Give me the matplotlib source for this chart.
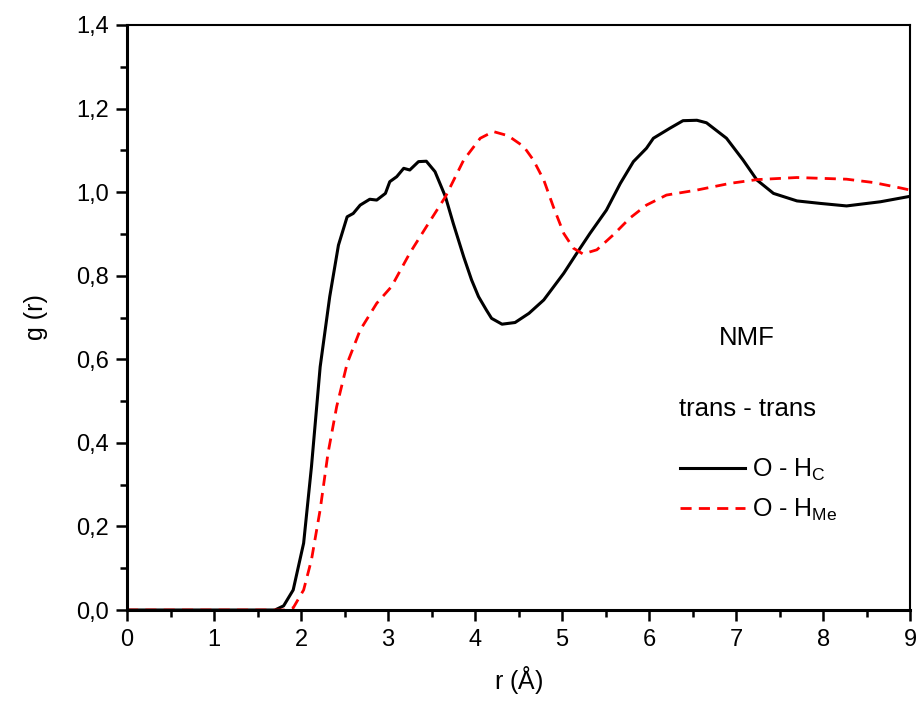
import matplotlib
matplotlib.use("Agg")
import matplotlib.pyplot as plt
from matplotlib.ticker import MultipleLocator

plt.rcParams['font.family'] = ['Liberation Sans', 'DejaVu Sans']
plt.rcParams['mathtext.default'] = 'regular'
plt.rcParams['mathtext.fontset'] = 'custom'
plt.rcParams['mathtext.rm'] = 'Liberation Serif'

# O - H_C (black, solid)
r_hc = [0.0, 1.0, 1.70, 1.80, 1.91, 2.03, 2.12, 2.22, 2.33, 2.43, 2.53, 2.60, 2.68,
        2.79, 2.87, 2.97, 3.02, 3.10, 3.18, 3.25, 3.35, 3.44, 3.54, 3.66, 3.75,
        3.87, 3.96, 4.04, 4.13, 4.19, 4.31, 4.46, 4.62, 4.79, 5.02, 5.17, 5.32,
        5.51, 5.67, 5.82, 5.97, 6.05, 6.24, 6.39, 6.55, 6.66, 6.89, 7.08, 7.24,
        7.43, 7.70, 7.97, 8.27, 8.66, 9.0]
g_hc = [0.0, 0.0, 0.0, 0.01, 0.048, 0.16, 0.343, 0.582, 0.75, 0.873, 0.941, 0.949, 0.969,
        0.983, 0.981, 0.997, 1.025, 1.037, 1.057, 1.053, 1.073, 1.074, 1.049, 0.989, 0.925,
        0.845, 0.79, 0.75, 0.718, 0.698, 0.684, 0.688, 0.71, 0.742, 0.806, 0.854, 0.901,
        0.957, 1.021, 1.073, 1.105, 1.129, 1.153, 1.171, 1.172, 1.166, 1.129, 1.077, 1.029,
        0.997, 0.979, 0.973, 0.967, 0.977, 0.99]

# O - H_Me (red, dashed)
r_hme = [0.0, 1.0, 1.80, 1.91, 2.03, 2.12, 2.22, 2.31, 2.41, 2.53, 2.68, 2.87, 3.04,
         3.25, 3.44, 3.66, 3.87, 4.06, 4.21, 4.38, 4.56, 4.67, 4.79, 4.90, 5.02,
         5.13, 5.24, 5.40, 5.59, 5.78, 5.97, 6.20, 6.55, 6.93, 7.24, 7.70, 8.27,
         8.58, 8.89, 9.0]
g_hme = [0.0, 0.0, 0.0, 0.005, 0.048, 0.12, 0.24, 0.375, 0.487, 0.59, 0.67, 0.734, 0.774,
         0.854, 0.917, 0.989, 1.077, 1.129, 1.145, 1.135, 1.109, 1.077, 1.029, 0.965, 0.901,
         0.866, 0.852, 0.862, 0.898, 0.938, 0.969, 0.993, 1.005, 1.021, 1.03, 1.035, 1.031,
         1.023, 1.01, 1.005]

fig = plt.figure(figsize=(9.23, 7.04), dpi=100)
ax = fig.add_axes([0.1376, 0.1335, 0.8484, 0.831])

ax.plot(r_hc, g_hc, color='black', lw=2.2, label='O - H$_C$')
ax.plot(r_hme, g_hme, color='red', lw=2.0, ls=(0, (4, 2.6)), label='O - H$_{Me}$')

ax.set_xlim(0, 9)
ax.set_ylim(0, 1.4)
ax.xaxis.set_major_locator(MultipleLocator(1))
ax.xaxis.set_minor_locator(MultipleLocator(0.5))
ax.yaxis.set_major_locator(MultipleLocator(0.2))
ax.yaxis.set_minor_locator(MultipleLocator(0.1))
ax.yaxis.set_major_formatter(plt.FuncFormatter(lambda v, p: f'{v:.1f}'.replace('.', ',')))
ax.tick_params(which='both', direction='out', top=False, right=False, width=1.8)
ax.tick_params(which='major', length=8, labelsize=17)
ax.tick_params(which='minor', length=5)
ax.tick_params(axis='x', which='major', pad=6)
ax.tick_params(axis='y', which='major', pad=5)
for s in ax.spines.values():
    s.set_linewidth(1.5)
ax.spines['left'].set_linewidth(2.2)
ax.spines['bottom'].set_linewidth(2.2)

ax.set_xlabel('r $(Å)$', fontsize=18, labelpad=9)
ax.set_ylabel('g (r)', fontsize=18, labelpad=20)

ax.text(0.792, 0.465, 'NMF', transform=ax.transAxes, fontsize=18.5, ha='center', va='center')
ax.text(0.792, 0.344, 'trans - trans', transform=ax.transAxes, fontsize=18.5, ha='center', va='center')
ax.legend(loc='center left', bbox_to_anchor=(0.69, 0.205), frameon=False, fontsize=18,
          handlelength=2.6, handletextpad=0.3, labelspacing=0.55, borderpad=0)

fig.savefig('out.png', dpi=100)
